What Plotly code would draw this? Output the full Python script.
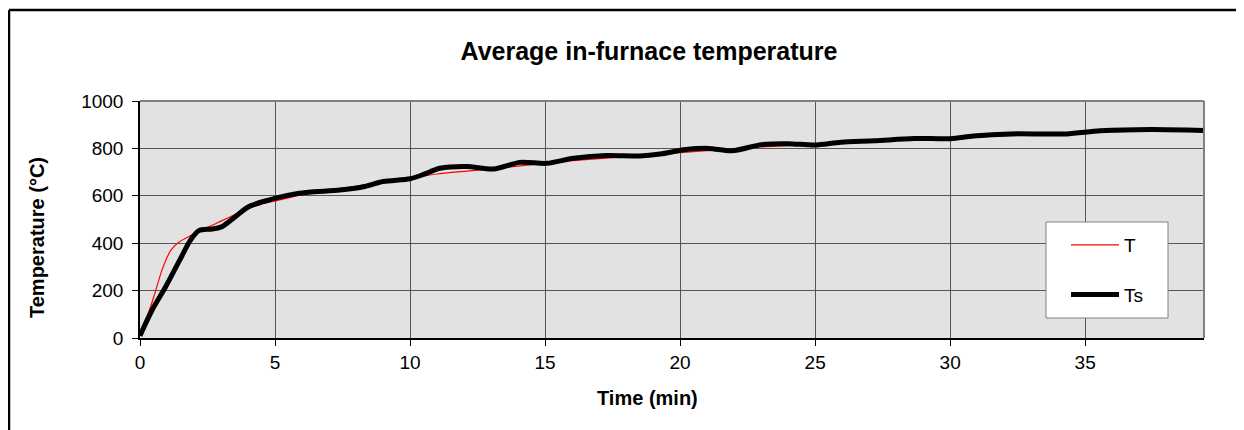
import plotly.graph_objects as go

# Furnace temperature T (red, thin)
t_T = [0, 0.25, 0.5, 0.8, 1.0, 1.15, 1.45, 1.9, 2.5, 3.0, 3.5, 4.0, 4.5, 5.0, 6, 7, 8, 9, 10,
       11, 12, 13, 14, 15, 16, 17, 18, 19, 20, 21, 22, 23, 24, 25, 26, 27, 28, 29, 30,
       31, 32, 33, 34, 35, 36, 37, 38, 39.4]
T_vals = [10, 85, 170, 282, 340, 372, 405, 433, 467, 493, 520, 545, 565, 578, 605, 622, 640, 658, 675,
          692, 703, 713, 725, 737, 748, 757, 765, 773, 782, 790, 798, 806, 812, 818, 824, 830, 836, 840, 843,
          848, 853, 857, 862, 866, 870, 874, 877, 880]

# Smoothed temperature Ts (black, thick)
t_Ts = [0, 0.45, 0.95, 1.44, 1.87, 2.18, 2.67, 3.04, 3.53, 4.02, 4.76, 5.5, 6.24, 7.4, 8.27, 9.0, 10.0,
        10.5, 11.1, 12.1, 13.09, 14.07, 15.06, 16.05, 17.28, 18.5, 19.26, 20.2, 21.06, 21.92, 23.02,
        24.0, 24.98, 25.96, 27.19, 28.66, 30.0, 30.86, 32.2, 34.3, 35.56, 37.4, 39.4]
Ts_vals = [10, 118, 216, 322, 413, 453, 460, 470, 512, 554, 582, 603, 615, 624, 638, 660, 672,
           690, 716, 724, 713, 741, 737, 758, 770, 768, 776, 795, 800, 790, 816,
           820, 814, 826, 832, 842, 841, 852, 861, 861, 874, 880, 876]

x_ticks = [0, 5, 10, 15, 20, 25, 30, 35]
y_ticks = [0, 200, 400, 600, 800, 1000]

FONT = "Liberation Sans, Arial, sans-serif"

# page offset from default body margin
OX, OY = 8, 8
W, H = 1244 - OX, 430 - OY
PL, PR, PT, PB = 140, 1204, 101, 338          # plot area in page pixels
ML, MT = PL - OX, PT - OY
MR, MB = W - (PR - OX), H - (PB - OY)
PW, PH = PR - PL, PB - PT


def px2x(px):
    return (px - PL) / PW


def py2y(py):
    return (PB - py) / PH


fig = go.Figure()
fig.add_trace(go.Scatter(x=t_T, y=T_vals, name="T", mode="lines", legendgroup="a",
                         line=dict(color="#ff0000", width=1.2, shape="spline", smoothing=0.6)))
fig.add_trace(go.Scatter(x=t_Ts, y=Ts_vals, name="Ts", mode="lines", legendgroup="b",
                         line=dict(color="#000000", width=5, shape="spline", smoothing=0.8)))

shapes = [
    # legend box
    dict(type="rect", xref="paper", yref="paper", x0=px2x(1046), x1=px2x(1168),
         y0=py2y(318), y1=py2y(222), fillcolor="white", line=dict(color="#808080", width=1),
         layer="above"),
    # plot-area top and right border
    dict(type="line", xref="paper", yref="paper", x0=0, x1=1, y0=1, y1=1,
         line=dict(color="#808080", width=2)),
    dict(type="line", xref="paper", yref="paper", x0=1, x1=1, y0=0, y1=1,
         line=dict(color="#808080", width=2)),
    # outer chart border
    dict(type="line", xref="paper", yref="paper", x0=px2x(9), x1=px2x(1260),
         y0=py2y(10), y1=py2y(10), line=dict(color="black", width=2.5)),
    dict(type="line", xref="paper", yref="paper", x0=px2x(9), x1=px2x(9),
         y0=py2y(10), y1=py2y(450), line=dict(color="black", width=2.5)),
]

annotations = [
    dict(text="<b>Time (min)</b>", xref="paper", yref="paper", x=px2x(647), y=py2y(398),
         showarrow=False, font=dict(family=FONT, size=20, color="black"),
         xanchor="center", yanchor="middle"),
    dict(text="<b>Temperature (°C)</b>", xref="paper", yref="paper", x=px2x(37), y=py2y(238),
         showarrow=False, textangle=-90, font=dict(family=FONT, size=20, color="black"),
         xanchor="center", yanchor="middle"),
]

fig.update_layout(
    width=W, height=H,
    margin=dict(l=ML, r=MR, t=MT, b=MB, pad=0),
    paper_bgcolor="white",
    plot_bgcolor="#e2e2e2",
    font=dict(family=FONT, size=19, color="black"),
    title=dict(text="<b>Average in-furnace temperature</b>", x=(649 - OX) / W, xref="container",
               xanchor="center", y=1 - (51 - OY) / H, yref="container", yanchor="middle",
               font=dict(family=FONT, size=25, color="black")),
    xaxis=dict(range=[0, 39.4], tickvals=x_ticks, ticks="outside", ticklen=6, tickcolor="black",
               showgrid=True, gridcolor="#555555", gridwidth=1, zeroline=False,
               showline=True, linecolor="black", linewidth=2,
               tickfont=dict(family=FONT, size=19, color="black")),
    yaxis=dict(range=[0, 1000], tickvals=y_ticks, ticks="outside", ticklen=6, tickcolor="black",
               showgrid=True, gridcolor="#555555", gridwidth=1, zeroline=False,
               showline=True, linecolor="black", linewidth=1.5,
               tickfont=dict(family=FONT, size=19, color="black"), ticklabelstandoff=5),
    showlegend=True,
    legend=dict(x=px2x(1066), y=py2y(226), xanchor="left", yanchor="top",
                bgcolor="rgba(0,0,0,0)", borderwidth=0, tracegroupgap=22,
                traceorder="grouped", itemwidth=48,
                font=dict(family=FONT, size=19, color="black")),
    shapes=shapes,
    annotations=annotations,
)

fig.write_html("out.html")
